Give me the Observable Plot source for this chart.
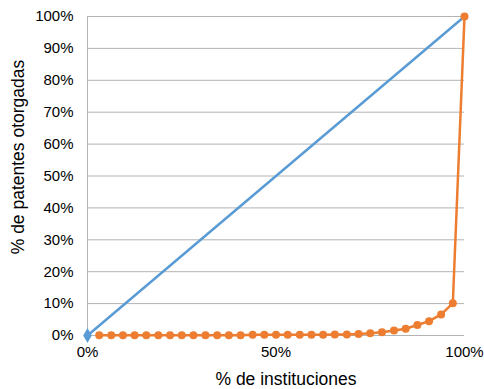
<!DOCTYPE html>
<html>
<head>
<meta charset="utf-8">
<script src="https://cdn.jsdelivr.net/npm/d3@7"></script>
<script src="https://cdn.jsdelivr.net/npm/@observablehq/plot@0.6"></script>
<style>
  html, body { margin: 0; padding: 0; background: #fff; }
  svg { display: block; }
</style>
</head>
<body>
<div id="chart"></div>
<script>
// % de instituciones (x) for the concentration curve
const instPct = [3.1, 6.3, 9.4, 12.5, 15.6, 18.8, 21.9, 25, 28.1, 31.3, 34.4, 37.5, 40.6, 43.8, 46.9, 50,
                 53.1, 56.3, 59.4, 62.5, 65.6, 68.8, 71.9, 75, 78.1, 81.3, 84.4, 87.5, 90.6, 93.8, 96.9, 100];
// % de patentes otorgadas (cumulative)
const patentPct = [0.1, 0.1, 0.1, 0.1, 0.1, 0.1, 0.1, 0.1, 0.1, 0.1, 0.1, 0.1, 0.1, 0.2, 0.2, 0.2,
                   0.2, 0.2, 0.2, 0.2, 0.3, 0.3, 0.5, 0.7, 1.0, 1.6, 2.1, 3.3, 4.5, 6.6, 10.1, 100];
// line of equality
const equalX = [0, 100];
const equalY = [0, 100];
const yTicks = [0, 10, 20, 30, 40, 50, 60, 70, 80, 90, 100];
const xTicks = [0, 50, 100];

const curve = instPct.map((x, i) => ({x, y: patentPct[i]}));
const equality = equalX.map((x, i) => ({x, y: equalY[i]}));

const font = "Liberation Sans, Arial, Helvetica, sans-serif";
const blue = "#5b9bd5";
const orange = "#ed7d31";

const chart = Plot.plot({
  width: 484,
  height: 389,
  marginLeft: 87,
  marginRight: 20,
  marginTop: 16,
  marginBottom: 54,
  style: {fontFamily: font, background: "#fff", color: "#000"},
  x: {domain: [0, 100]},
  y: {domain: [0, 100]},
  marks: [
    Plot.ruleY(yTicks, {stroke: "#b3b3b3", strokeWidth: 1}),
    Plot.ruleX([0], {stroke: "#b3b3b3", strokeWidth: 1}),
    Plot.axisY({ticks: yTicks, tickSize: 0, tickPadding: 14, tickFormat: d => d + "%", fontSize: 15, label: null}),
    Plot.axisX({ticks: xTicks, tickSize: 0, tickPadding: 11, tickFormat: d => d + "%", fontSize: 15, label: null}),
    Plot.line(equality, {x: "x", y: "y", stroke: blue, strokeWidth: 2.5}),
    Plot.dot(equality.slice(0, 1), {x: "x", y: "y", symbol: "diamond", r: 4.5, fill: blue, stroke: "none"}),
    Plot.line(curve, {x: "x", y: "y", stroke: orange, strokeWidth: 2.5}),
    Plot.dot(curve, {x: "x", y: "y", r: 4, fill: orange, stroke: "none"}),
    Plot.text(["% de instituciones"], {frameAnchor: "bottom", lineAnchor: "middle", textAnchor: "middle", dy: 44, dx: 10, fontSize: 17.5, fill: "#000"}),
    Plot.text(["% de patentes otorgadas"], {frameAnchor: "left", lineAnchor: "middle", textAnchor: "middle", dx: -69, dy: -19, rotate: -90, fontSize: 17.5, fill: "#000"})
  ]
});
document.getElementById("chart").appendChild(chart);
</script>
</body>
</html>
